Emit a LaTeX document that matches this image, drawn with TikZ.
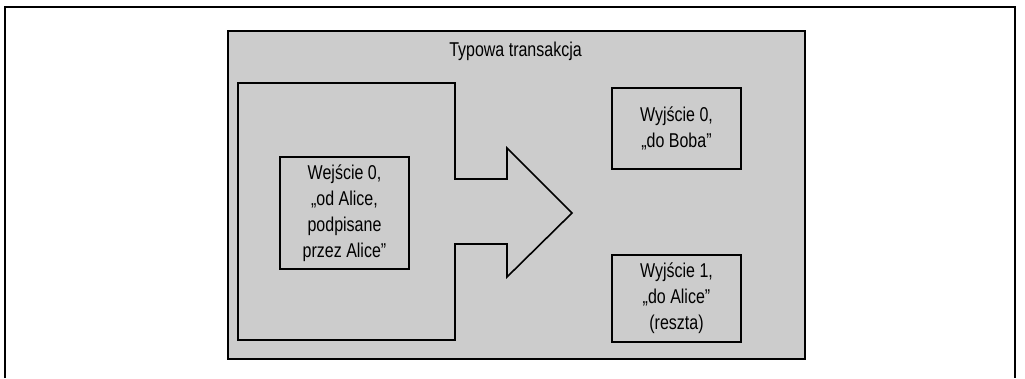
\documentclass[tikz,border=0pt]{standalone}
\usepackage{fontspec}
\setmainfont[FakeStretch=0.8]{Liberation Sans}
\usetikzlibrary{positioning}
\usepackage{xcolor}
\definecolor{txgray}{HTML}{CCCCCC}

\begin{document}
\begin{tikzpicture}[x=1pt,y=-1pt,font=\fontsize{20}{26}\selectfont,
  part/.style={draw,line width=1.6pt,align=center,inner sep=0pt,minimum width=129}]
\useasboundingbox (0,0) rectangle (1025,378);
% page frame, open at the bottom
\draw[line width=2.6pt] (5,378) -- (5,7) -- (1015,7) -- (1015,378);
% the transaction itself
\node[draw,line width=2pt,fill=txgray,anchor=north west,
  minimum width=577,minimum height=328] (tx) at (227,30) {};
\node[anchor=base] (title) at (515.5,56) {Typowa transakcja};
% input block with its arrow towards the outputs
\draw[line width=1.6pt] (238,83) -- (455,83) -- (455,179) -- (507,179) -- (507,148)
  -- (572,213) -- (507,277) -- (507,244) -- (455,244) -- (455,340) -- (238,340) -- cycle;
\node[part,minimum height=112] (in0) at (344.5,213)
  {Wejście 0,\\„od Alice,\\podpisane\\przez Alice”};
% outputs
\node[part,minimum height=81] (out0) at (676.5,128.5) {Wyjście 0,\\„do Boba”};
\node[part,minimum height=87] (out1) at (676.5,298.5) {Wyjście 1,\\„do Alice”\\(reszta)};
\end{tikzpicture}
\end{document}
